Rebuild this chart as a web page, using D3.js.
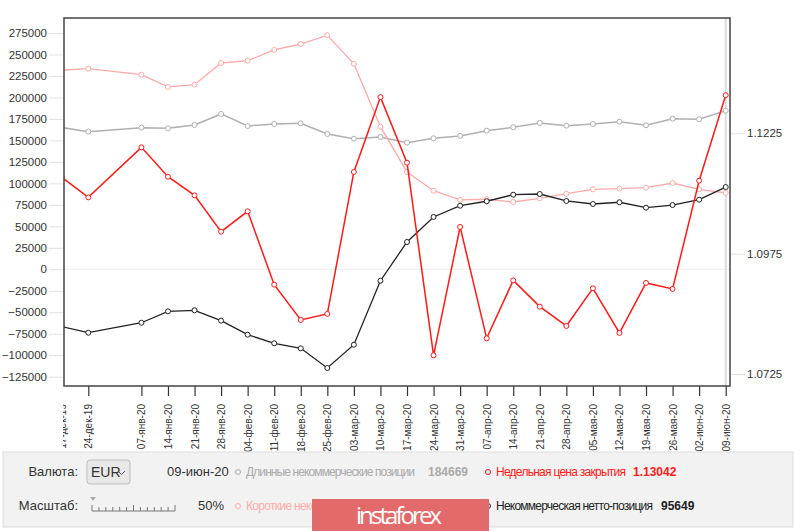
<!DOCTYPE html>
<html>
<head>
<meta charset="utf-8">
<script src="https://cdn.jsdelivr.net/npm/d3@7"></script>
<style>
  body { margin: 0; background: #fff; }
  svg { display: block; font-family: "Liberation Sans", Arial, sans-serif; }
</style>
</head>
<body>
<svg id="chart" width="800" height="531"></svg>
<script>
// Weekly COT report dates (x axis tick labels)
var weeks = ["17-дек-19", "24-дек-19", "07-янв-20", "14-янв-20", "21-янв-20", "28-янв-20",
  "04-фев-20", "11-фев-20", "18-фев-20", "25-фев-20", "03-мар-20", "10-мар-20",
  "17-мар-20", "24-мар-20", "31-мар-20", "07-апр-20", "14-апр-20", "21-апр-20",
  "28-апр-20", "05-мая-20", "12-мая-20", "19-мая-20", "26-мая-20", "02-июн-20", "09-июн-20"];

var longPos = [165000, 160200, 164800, 164100, 168000, 180800, 166800, 169100, 169900, 157500,
  152000, 154000, 147400, 152500, 155200, 161300, 165300, 170300, 167200, 169100,
  171800, 167600, 175300, 174600, 184669];

var shortPos = [231800, 233500, 226500, 212200, 214900, 240100, 242800, 255300, 262200, 272400,
  239000, 166000, 113300, 91500, 80700, 81500, 78300, 82600, 88000, 93100,
  93800, 95000, 100400, 93100, 89020];

var netPos = [-66600, -73800, -62200, -48900, -47700, -59800, -76100, -86100, -92000, -114900,
  -87800, -13300, 31800, 60900, 74000, 79200, 86800, 87600, 79500, 76000,
  78000, 71700, 74800, 81000, 95649];

var price = [1.11337, 1.10919, 1.11958, 1.11349, 1.10961, 1.10207, 1.10629, 1.09106, 1.08373, 1.08498,
  1.11447, 1.13002, 1.11640, 1.07638, 1.10305, 1.07991, 1.09195, 1.08649, 1.08248, 1.09029,
  1.08103, 1.09141, 1.09017, 1.11266, 1.13042];

var leftTicks = [275000, 250000, 225000, 200000, 175000, 150000, 125000, 100000, 75000, 50000,
  25000, 0, -25000, -50000, -75000, -100000, -125000];
var rightTicks = [1.0725, 1.0975, 1.1225];

var MONTHS = { "янв": 0, "фев": 1, "мар": 2, "апр": 3, "мая": 4, "июн": 5,
  "июл": 6, "авг": 7, "сен": 8, "окт": 9, "ноя": 10, "дек": 11 };

function utils__parse_week(s) {
  var p = s.split("-");
  return new Date(2000 + (+p[2]), MONTHS[p[1]], +p[0]);
}

var dates = weeks.map(utils__parse_week);

var PLOT = { left: 64, top: 18, right: 730, bottom: 386 };

var svg = d3.select("#chart");

var x = d3.scaleTime()
  .domain([dates[1], dates[dates.length - 1]])
  .range([88.3, 725.7]);

var yL = d3.scaleLinear().domain([-125000, 275000]).range([376.7, 33]);
var yR = d3.scaleLinear().domain([1.0725, 1.1225]).range([374, 133.3]);

svg.append("defs").append("clipPath").attr("id", "plot-clip")
  .append("rect")
  .attr("x", PLOT.left).attr("y", PLOT.top)
  .attr("width", PLOT.right - PLOT.left).attr("height", PLOT.bottom - PLOT.top);

svg.select("defs").append("clipPath").attr("id", "xaxis-clip")
  .append("rect")
  .attr("x", PLOT.left - 1).attr("y", PLOT.bottom)
  .attr("width", 800).attr("height", 100);

// Left axis
var leftAxis = svg.append("g")
  .attr("transform", "translate(" + PLOT.left + ",0)")
  .call(d3.axisLeft(yL).tickValues(leftTicks).tickSize(15).tickPadding(2).tickFormat(d3.format("d")));
leftAxis.select(".domain").remove();
leftAxis.selectAll("line").attr("stroke", "#e2e2e2");
leftAxis.selectAll("text").attr("fill", "#333").style("font-size", "11.5px")
  .style("font-family", "'Liberation Sans', Arial, sans-serif");

// Right axis (price)
var rightAxis = svg.append("g")
  .attr("transform", "translate(" + PLOT.right + ",0)")
  .call(d3.axisRight(yR).tickValues(rightTicks).tickSize(15).tickPadding(2).tickFormat(d3.format(".4f")));
rightAxis.select(".domain").remove();
rightAxis.selectAll("line").attr("stroke", "#e2e2e2");
rightAxis.selectAll("text").attr("fill", "#333").style("font-size", "11.5px")
  .style("font-family", "'Liberation Sans', Arial, sans-serif");

// zero line
svg.append("line")
  .attr("x1", PLOT.left).attr("x2", PLOT.right)
  .attr("y1", yL(0)).attr("y2", yL(0))
  .attr("stroke", "#eeeeee");

// hover line at the last week
svg.append("line")
  .attr("x1", x(dates[dates.length - 1])).attr("x2", x(dates[dates.length - 1]))
  .attr("y1", PLOT.top).attr("y2", PLOT.bottom)
  .attr("stroke", "#dcdcdc").attr("stroke-width", 2);

// Bottom axis
var bottomAxis = svg.append("g")
  .attr("clip-path", "url(#xaxis-clip)")
  .append("g")
  .attr("transform", "translate(0," + PLOT.bottom + ")")
  .call(d3.axisBottom(x).tickValues(dates).tickSize(10).tickFormat(function (d, i) { return weeks[i]; }));
bottomAxis.select(".domain").remove();
bottomAxis.selectAll("line").attr("stroke", "#333").attr("stroke-width", 1.2);
bottomAxis.selectAll("text")
  .attr("fill", "#333")
  .style("font-size", "10px")
  .style("font-family", "'Liberation Sans', Arial, sans-serif")
  .attr("text-anchor", "end")
  .attr("transform", "rotate(-90)")
  .attr("x", -18).attr("y", 0).attr("dy", "0.35em");

var plot = svg.append("g").attr("clip-path", "url(#plot-clip)");

function utils__draw_series(vals, yscale, color, width) {
  var line = d3.line()
    .x(function (d, i) { return x(dates[i]); })
    .y(function (d) { return yscale(d); });

  plot.append("path")
    .datum(vals)
    .attr("fill", "none")
    .attr("stroke", color)
    .attr("stroke-width", width)
    .attr("d", line);

  plot.selectAll(null)
    .data(vals)
    .enter()
    .append("circle")
    .attr("cx", function (d, i) { return x(dates[i]); })
    .attr("cy", function (d) { return yscale(d); })
    .attr("r", 2.5)
    .attr("fill", "#fff")
    .attr("stroke", color)
    .attr("stroke-width", 1);
}

utils__draw_series(longPos, yL, "#b0b0b0", 1.5);
utils__draw_series(shortPos, yL, "#ffaaaa", 1.3);
utils__draw_series(netPos, yL, "#222222", 1.3);
utils__draw_series(price, yR, "#ff1a1a", 1.5);

// frame
svg.append("rect")
  .attr("x", PLOT.left).attr("y", PLOT.top)
  .attr("width", PLOT.right - PLOT.left).attr("height", PLOT.bottom - PLOT.top)
  .attr("fill", "none")
  .attr("stroke", "#444")
  .attr("stroke-width", 1.5);

// Bottom control panel
var panel = svg.append("g");
panel.append("rect")
  .attr("x", 3).attr("y", 452).attr("width", 790).attr("height", 75)
  .attr("fill", "#f2f2f2").attr("stroke", "#dddddd");

function utils__text(g, tx, ty, s, opts) {
  opts = opts || {};
  return g.append("text")
    .attr("x", tx).attr("y", ty)
    .attr("text-anchor", opts.anchor || "start")
    .attr("fill", opts.fill || "#333")
    .style("font-size", (opts.size || 13) + "px")
    .style("font-weight", opts.bold ? "bold" : "normal")
    .text(s);
}

utils__text(panel, 78, 476, "Валюта:", { anchor: "end" });
utils__text(panel, 78, 510, "Масштаб:", { anchor: "end" });

// currency select
panel.append("rect")
  .attr("x", 87).attr("y", 460).attr("width", 43).attr("height", 24)
  .attr("rx", 3).attr("fill", "#e8e8e8").attr("stroke", "#bbb");
utils__text(panel, 91, 477, "EUR", { size: 14 });
panel.append("path")
  .attr("d", "M118,471 l3.5,3.5 l3.5,-3.5")
  .attr("fill", "none").attr("stroke", "#555");

utils__text(panel, 167, 476, "09-июн-20");
utils__text(panel, 198, 510, "50%");

// zoom slider
var slider = panel.append("g");
slider.append("path").attr("d", "M90,497 l6,0 l-3,4 z").attr("fill", "#aaa");
slider.append("path").attr("d", "M92,511 L175,511").attr("stroke", "#777");
d3.range(13).forEach(function (i) {
  var sx = 92 + i * (83 / 12);
  slider.append("line")
    .attr("x1", sx).attr("x2", sx)
    .attr("y1", (i === 0 || i === 6 || i === 12) ? 505 : 507).attr("y2", 511)
    .attr("stroke", "#777");
});

// legend entries: circle, label, then value at its own x
function utils__legend(lx, ly, color, label, labelLen, value, vx) {
  panel.append("circle").attr("cx", lx).attr("cy", ly - 4).attr("r", 2.5)
    .attr("fill", "none").attr("stroke", color);
  panel.append("text").attr("x", lx + 8).attr("y", ly)
    .attr("fill", color)
    .attr("textLength", labelLen)
    .style("font-size", "12px")
    .style("font-weight", "normal")
    .text(label);
  if (value) {
    panel.append("text").attr("x", vx).attr("y", ly)
      .attr("fill", color)
      .style("font-size", "12px")
      .style("font-weight", "bold")
      .text(value);
  }
}

utils__legend(238, 476, "#aaaaaa", "Длинные некоммерческие позиции", 169, "184669", 428);
utils__legend(488, 476, "#ff1a1a", "Недельная цена закрытия", 130, "1.13042", 633);
utils__legend(238, 510, "#ffaaaa", "Короткие некоммерческие позиции", 175, "", 0);
utils__legend(488, 510, "#222222", "Некоммерческая нетто-позиция", 157, "95649", 661);

// watermark logo
var logo = svg.append("g");
logo.append("rect")
  .attr("x", 312).attr("y", 499).attr("width", 177).attr("height", 34)
  .attr("fill", "#e36a6a");
logo.append("text")
  .attr("x", 356).attr("y", 524)
  .attr("fill", "#fff")
  .attr("textLength", 86)
  .style("font-size", "24px")
  .style("font-family", "'Open Sans', sans-serif")
  .text("instaforex");
</script>
</body>
</html>
